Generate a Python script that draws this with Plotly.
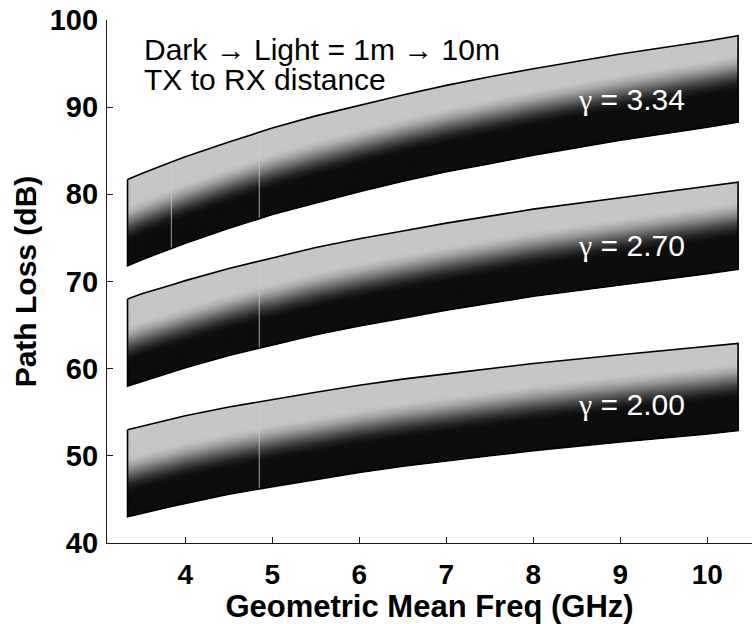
import numpy as np
import plotly.graph_objects as go

# Geometric mean frequency (GHz) at which the band edges are read
freq_ghz = [3.336, 3.5, 3.84, 4.0, 4.5, 4.85, 5.0, 5.5, 6.0, 6.5, 7.0, 7.5,
            8.0, 9.0, 10.0, 10.354]

# Path loss (dB): upper edge = 10 m separation, lower edge = 1 m separation
bands = {
    "3.34": {
        "upper": [81.7, 82.4, 83.7, 84.3, 86.0, 87.1, 87.6, 89.0, 90.2, 91.4,
                  92.5, 93.5, 94.4, 96.1, 97.6, 98.2],
        "lower": [71.8, 72.5, 73.8, 74.4, 76.1, 77.2, 77.7, 79.0, 80.3, 81.5,
                  82.6, 83.5, 84.5, 86.2, 87.7, 88.3],
        "label_xy": (9.13, 90.9),
        "seams": [3.84, 4.85],
    },
    "2.70": {
        "upper": [68.0, 68.6, 69.6, 70.1, 71.5, 72.4, 72.7, 73.9, 74.9, 75.8,
                  76.7, 77.5, 78.3, 79.6, 80.9, 81.4],
        "lower": [58.0, 58.6, 59.6, 60.1, 61.5, 62.4, 62.7, 63.9, 64.9, 65.8,
                  66.7, 67.5, 68.3, 69.6, 70.9, 71.4],
        "label_xy": (9.13, 74.1),
        "seams": [4.85],
    },
    "2.00": {
        "upper": [53.0, 53.4, 54.2, 54.6, 55.6, 56.2, 56.5, 57.3, 58.1, 58.8,
                  59.4, 60.0, 60.6, 61.6, 62.5, 62.9],
        "lower": [43.0, 43.4, 44.2, 44.6, 45.6, 46.2, 46.5, 47.3, 48.1, 48.8,
                  49.4, 50.0, 50.6, 51.6, 52.5, 52.9],
        "label_xy": (9.13, 55.85),
        "seams": [4.85],
    },
}

x_ticks = [4, 5, 6, 7, 8, 9, 10]
y_ticks = [40, 50, 60, 70, 80, 90, 100]

FONT = "Liberation Sans"
N_LEVELS = 48

f = np.array(freq_ghz)
# the light (far) tones reach slightly deeper into the band at low frequency
pos = (f - f.min()) / (f.max() - f.min())
shift = 0.09 * (1 - pos)


def shade(t):
    """Grey level for a relative position t (0 = 1 m edge, 1 = 10 m edge)."""
    s = np.clip((t - 0.36) / 0.44, 0, 1)
    s = s * s * (3 - 2 * s)
    g = int(round(13 + 185 * float(s)))
    return f"rgb({g},{g},{g})"


fig = go.Figure()

for gamma, b in bands.items():
    up = np.array(b["upper"])
    lo = np.array(b["lower"])
    span = up - lo

    # base fill: whole band in the lightest tone
    fig.add_trace(go.Scatter(
        x=list(f) + list(f[::-1]), y=list(up) + list(lo[::-1]),
        fill="toself", fillcolor=shade(1.0), mode="none",
        hoverinfo="skip", showlegend=False))

    # progressively darker layers grown up from the 1 m edge
    levels = np.linspace(1.0, 0.0, N_LEVELS + 1)
    for k in range(N_LEVELS):
        t_hi = levels[k]
        t_lo = levels[k + 1]
        frac = np.clip(t_hi - shift, 0, 1)
        if frac.max() <= 0:
            continue
        top = lo + frac * span
        fig.add_trace(go.Scatter(
            x=list(f) + list(f[::-1]), y=list(top) + list(lo[::-1]),
            fill="toself", fillcolor=shade(0.5 * (t_hi + t_lo)), mode="none",
            hoverinfo="skip", showlegend=False))

    # faint vertical seams in the measured surface
    for sf in b["seams"]:
        i = freq_ghz.index(sf)
        fig.add_trace(go.Scatter(
            x=[sf, sf], y=[lo[i], up[i]], mode="lines",
            line=dict(color="rgba(205,205,205,0.75)", width=1),
            hoverinfo="skip", showlegend=False))

    # band outline
    fig.add_trace(go.Scatter(
        x=list(f) + list(f[::-1]) + [f[0]],
        y=list(up) + list(lo[::-1]) + [up[0]],
        mode="lines", line=dict(color="black", width=1.6),
        hoverinfo="skip", showlegend=False))

    lx, ly = b["label_xy"]
    fig.add_annotation(
        x=lx, y=ly, xref="x", yref="y", showarrow=False,
        text=f"<span style=\"font-family:'Liberation Serif'\">γ</span> = {gamma}",
        font=dict(family=FONT, size=30, color="white"),
        xanchor="center", yanchor="middle")

fig.add_annotation(
    x=3.5, y=96.6, xref="x", yref="y", showarrow=False,
    text="Dark → Light = 1m → 10m",
    font=dict(family=FONT, size=30, color="black"),
    xanchor="left", yanchor="middle")
fig.add_annotation(
    x=3.5, y=93.2, xref="x", yref="y", showarrow=False,
    text="TX to RX distance",
    font=dict(family=FONT, size=30, color="black"),
    xanchor="left", yanchor="middle")

axis_common = dict(
    showgrid=False, zeroline=False, showline=True, linecolor="#1a1a1a",
    linewidth=1.2, ticks="inside", ticklen=6, tickwidth=1.1, tickcolor="#1a1a1a",
    mirror=False,
)

fig.update_layout(
    width=752, height=624,
    margin=dict(l=107, r=0, t=20, b=81),
    paper_bgcolor="white", plot_bgcolor="white",
    xaxis=dict(
        range=[3.1, 10.514], tickvals=x_ticks, ticktext=[str(v) for v in x_ticks],
        tickfont=dict(family=FONT, size=28, color="black", weight="bold"),
        ticklabelstandoff=6,
        title=dict(text="Geometric Mean Freq (GHz)",
                   font=dict(family=FONT, size=31, color="black", weight="bold"),
                   standoff=2),
        **axis_common),
    yaxis=dict(
        range=[40, 100], tickvals=y_ticks, ticktext=[str(v) for v in y_ticks],
        tickfont=dict(family=FONT, size=29, color="black", weight="bold"),
        ticklabelstandoff=2,
        title=dict(text="Path Loss (dB)",
                   font=dict(family=FONT, size=30, color="black", weight="bold"),
                   standoff=4),
        **axis_common),
    showlegend=False,
)

fig.write_html("out.html")
